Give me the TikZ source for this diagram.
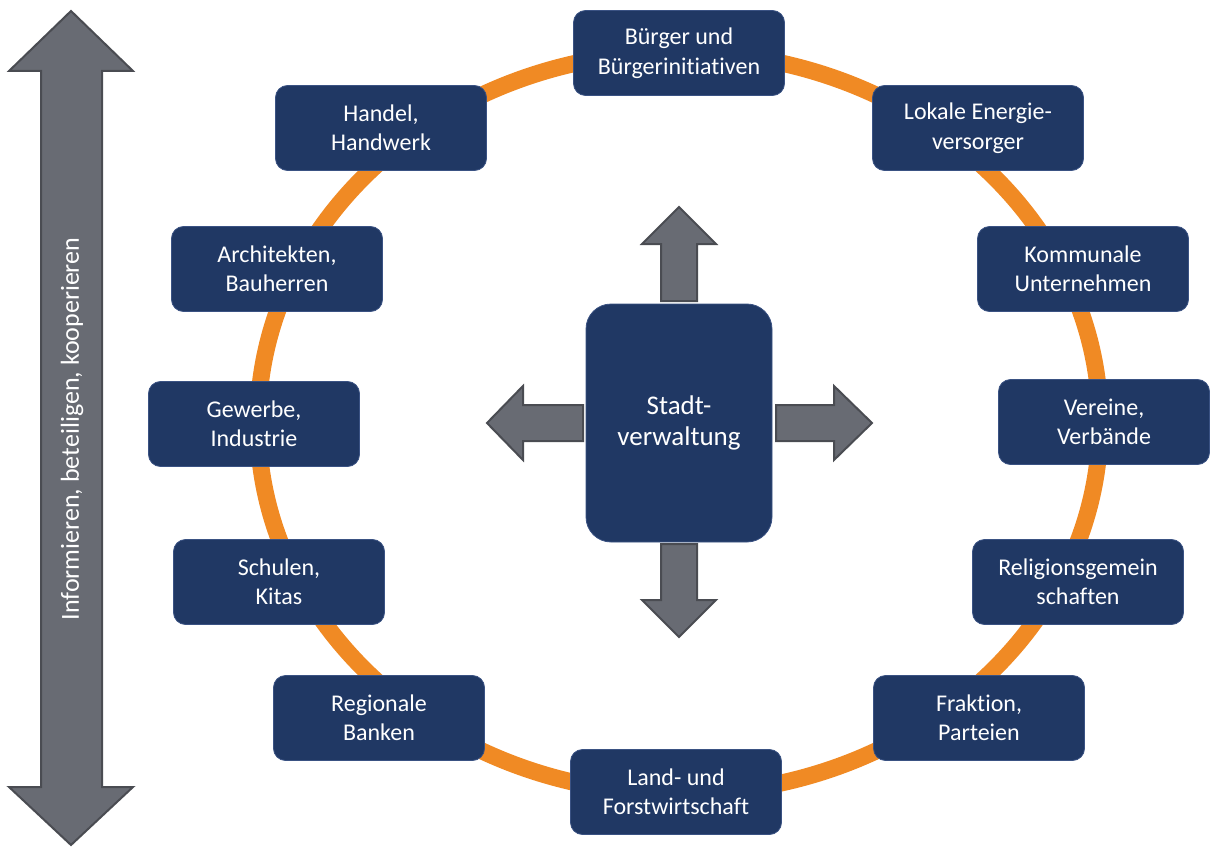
\documentclass[tikz,border=0pt]{standalone}
\usepackage{fontspec}
\setmainfont{Carlito}[Ligatures=NoCommon]
\definecolor{navy}{HTML}{203864}
\definecolor{navyline}{HTML}{3A5283}
\definecolor{ringcol}{HTML}{F08A24}
\definecolor{arrowfill}{HTML}{686B73}
\definecolor{arrowline}{HTML}{4A4C52}
\begin{document}
\begin{tikzpicture}[x=1pt,y=-1pt,
  box/.style={rectangle, rounded corners=12pt, fill=navy, draw=navyline, line width=0.8pt,
    minimum width=211pt, minimum height=85pt, text=white,
    font=\fontsize{24}{29.5}\selectfont, align=center, inner sep=0pt},
  blockarrow/.style={fill=arrowfill, draw=arrowline, line width=2pt, line join=miter}]
\useasboundingbox (0,0) rectangle (1211,848);
% ring
\draw[ringcol, line width=17pt] (679,423) ellipse [x radius=421pt, y radius=371pt];
% big double arrow
\draw[blockarrow] (41,71) -- (9,71) -- (71,11) -- (133,71) -- (102,71) -- (102,787)
  -- (133,787) -- (71,845) -- (9,787) -- (41,787) -- cycle;
\node[rotate=90, text=white, font=\fontsize{26}{30}\selectfont] (lbl) at (72,429)
  {Informieren, beteiligen, kooperieren};
% boxes
\node[box] (buerger) at (679,53) {Bürger und\\Bürgerinitiativen};
\node[box] (handel) at (381,128) {Handel,\\Handwerk};
\node[box] (energie) at (978,128) {Lokale Energie-\\versorger};
\node[box] (archi) at (277,269) {Architekten,\\Bauherren};
\node[box] (kommunal) at (1083,269) {Kommunale\\Unternehmen};
\node[box] (gewerbe) at (254,424) {Gewerbe,\\Industrie};
\node[box] (vereine) at (1104,422) {Vereine,\\Verbände};
\node[box] (schulen) at (279,582) {Schulen,\\Kitas};
\node[box] (religion) at (1078,582) {Religionsgemein\\schaften};
\node[box] (banken) at (379,718) {Regionale\\Banken};
\node[box] (fraktion) at (979,718) {Fraktion,\\Parteien};
\node[box] (land) at (676,792) {Land- und\\Forstwirtschaft};
% center
\node[box, minimum width=186pt, minimum height=238pt, rounded corners=25pt,
  font=\fontsize{27}{31}\selectfont] (stadt) at (679,423) {Stadt-\\verwaltung};
% block arrows
\draw[blockarrow] (661,301) -- (661,244) -- (642,244) -- (679,207) -- (716,244) -- (697,244) -- (697,301) -- cycle;
\draw[blockarrow] (661,544) -- (661,600) -- (642,600) -- (679,637) -- (716,600) -- (697,600) -- (697,544) -- cycle;
\draw[blockarrow] (583,405) -- (523,405) -- (523,386) -- (487,423) -- (523,460) -- (523,441) -- (583,441) -- cycle;
\draw[blockarrow] (776,405) -- (834,405) -- (834,386) -- (872,423) -- (834,460) -- (834,441) -- (776,441) -- cycle;
\end{tikzpicture}
\end{document}
